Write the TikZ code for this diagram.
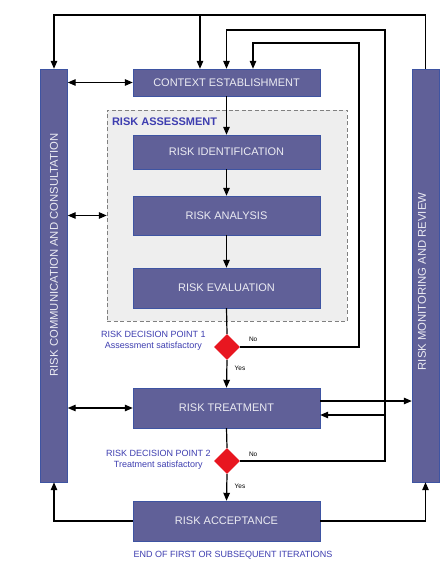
\documentclass[tikz,border=0pt]{standalone}
\usepackage{fontspec}
\setmainfont{Liberation Sans}
\definecolor{boxfill}{RGB}{96,96,152}
\definecolor{boxline}{RGB}{62,84,162}
\definecolor{labelblue}{RGB}{62,62,176}
\definecolor{decision}{RGB}{232,22,32}
\definecolor{shade}{RGB}{238,238,238}
\usetikzlibrary{arrows.meta,shapes.geometric}

\begin{document}
\begin{tikzpicture}[x=1pt,y=-1pt,
    stage/.style={draw=boxline,fill=boxfill,text=white!88!boxfill,font=\fontsize{11}{13}\selectfont,minimum width=187pt,inner sep=0pt},
    bar/.style={draw=boxline,fill=boxfill,minimum width=27pt,minimum height=413pt,inner sep=0pt},
    bartext/.style={rotate=90,text=white!88!boxfill,font=\fontsize{11.3}{13}\selectfont,inner sep=0pt},
    gate/.style={diamond,fill=decision,minimum size=26pt,inner sep=0pt},
    note/.style={text=labelblue,font=\fontsize{9}{11.5}\selectfont,align=center,inner sep=0pt},
    tag/.style={font=\fontsize{6.5}{7}\selectfont,inner sep=0pt},
    link/.style={black,line width=1.2pt},
    flow/.style={link,-{Triangle[length=8pt,width=6.5pt]}},
    both/.style={link,{Triangle[length=8pt,width=6.5pt]}-{Triangle[length=8pt,width=6.5pt]}}]
  \useasboundingbox[fill=white] (0,0) rectangle (445,569);

  \node[draw=gray,dash pattern=on 4pt off 2.5pt,fill=shade,minimum width=240pt,minimum height=211pt] (asm) at (227,215.5) {};
  \node[anchor=north west,text=labelblue,font=\fontsize{11}{13}\selectfont\bfseries,inner sep=0pt] (asmlabel) at ([shift={(5,8)}]asm.north west) {RISK ASSESSMENT};

  \node[stage,minimum height=27pt] (ctx) at (226.5,82.5) {CONTEXT ESTABLISHMENT};
  \foreach \n/\t/\y/\h in {ident/RISK IDENTIFICATION/152/34,anal/RISK ANALYSIS/215.5/39,eval/RISK EVALUATION/288/40,treat/RISK TREATMENT/408/40,acc/RISK ACCEPTANCE/521/40}
    \node[stage,minimum height=\h pt] (\n) at (226.5,\y) {\t};

  \node[bar] (comm) at (54,275.5) {};
  \node[bartext] (commtext) at (54,255) {RISK COMMUNICATION AND CONSULTATION};
  \node[bar] (mon) at (425.5,275.5) {};
  \node[bartext] (montext) at (422,281.5) {RISK MONITORING AND REVIEW};

  \node[gate] (dp1) at (227,347) {};
  \node[gate] (dp2) at (227,461) {};
  \node[note,anchor=east] (dp1note) at ([shift={(-8,-6)}]dp1.west) {RISK DECISION POINT 1\\Assessment satisfactory};
  \node[note,anchor=east] (dp2note) at ([shift={(-3,-1)}]dp2.west) {RISK DECISION POINT 2\\Treatment satisfactory};
  \node[tag] (dp1no) at ([shift={(13,-8)}]dp1.east) {No};
  \node[tag] (dp1yes) at ([shift={(13,8)}]dp1.south) {Yes};
  \node[tag] (dp2no) at ([shift={(13,-7)}]dp2.east) {No};
  \node[tag] (dp2yes) at ([shift={(13,12)}]dp2.south) {Yes};
  \node[note] (endnote) at ([shift={(6.5,14)}]acc.south) {END OF FIRST OR SUBSEQUENT ITERATIONS};

  \draw[flow] (ctx.south) -- (ident.north);
  \draw[flow] (ident.south) -- (anal.north);
  \draw[flow] (anal.south) -- (eval.north);
  \draw[link] (eval.south) -- (dp1.north);
  \draw[flow] (dp1.south) -- (treat.north);
  \draw[link] (treat.south) -- (dp2.north);
  \draw[flow] (dp2.south) -- (acc.north);

  \coordinate (top) at (200,15);
  \coordinate (loopa) at (385,30);
  \coordinate (loopb) at (359,43);
  \coordinate (back) at (385,415);
  \draw[flow] (mon.north) |- (top -| comm.north) -- (comm.north);
  \draw[flow] (top) -- (top |- ctx.north);
  \draw[flow] (dp2.east) -| (loopa) -| (ctx.north);
  \draw[flow] (dp1.east) -| (loopb) -| ([xshift=26.5pt]ctx.north);
  \draw[flow] (back) -- (back -| treat.east);
  \draw[flow] ([yshift=7pt]treat.east) -- ([yshift=7pt]treat.east -| mon.west);

  \draw[both] (comm.east |- ctx) -- (ctx.west);
  \draw[both] (comm.east |- asm) -- (asm.west);
  \draw[both] (comm.east |- treat) -- (treat.west);
  \draw[flow] (acc.west) -| (comm.south);
  \draw[flow] (acc.east) -| (mon.south);
\end{tikzpicture}
\end{document}
